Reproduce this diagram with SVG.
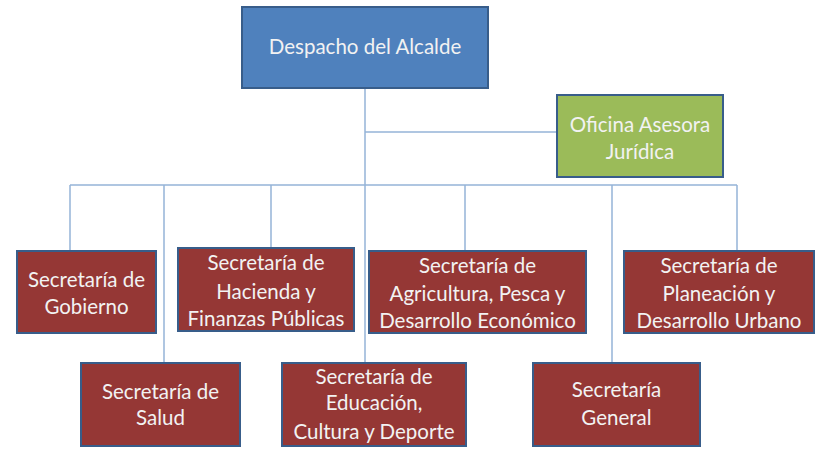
<svg xmlns="http://www.w3.org/2000/svg" width="826" height="463" viewBox="0 0 826 463">
<style>
.box{stroke:#385D8A;stroke-width:2}
.blue{fill:#4F81BD}
.green{fill:#9BBB59}
.red{fill:#953735}
.conn{fill:none;stroke:#95B3D7;stroke-width:1.5}
text{font-family:Lato,"Open Sans","Liberation Sans",sans-serif;font-size:20.5px;fill:#F2F2F2;text-anchor:middle}
</style>
<rect width="826" height="463" fill="#FFFFFF"/>
<g id="connectors">
<path class="conn" d="M365 88V363"/>
<path class="conn" d="M365 132H557"/>
<path class="conn" d="M70 185H737"/>
<path class="conn" d="M70 185V251"/>
<path class="conn" d="M164 185V363"/>
<path class="conn" d="M271 185V248"/>
<path class="conn" d="M465 185V251"/>
<path class="conn" d="M612 185V363"/>
<path class="conn" d="M737 185V251"/>
</g>
<g id="despacho">
<rect class="box blue" x="242" y="7" width="246" height="81"/>
<text x="365" y="54">Despacho del Alcalde</text>
</g>
<g id="oficina">
<rect class="box green" x="557" y="95" width="166" height="82"/>
<text x="640" y="132">Oficina Asesora</text>
<text x="640" y="159">Jurídica</text>
</g>
<g id="gobierno">
<rect class="box red" x="17" y="251" width="139" height="82"/>
<text x="86.5" y="287">Secretaría de</text>
<text x="86.5" y="314">Gobierno</text>
</g>
<g id="hacienda">
<rect class="box red" x="178" y="248" width="176" height="83"/>
<text x="266" y="270">Secretaría de</text>
<text x="266" y="299">Hacienda y</text>
<text x="266" y="326">Finanzas Públicas</text>
</g>
<g id="agricultura">
<rect class="box red" x="369" y="251" width="217" height="82"/>
<text x="477.5" y="273">Secretaría de</text>
<text x="477.5" y="301">Agricultura, Pesca y</text>
<text x="477.5" y="328">Desarrollo Económico</text>
</g>
<g id="planeacion">
<rect class="box red" x="624" y="251" width="190" height="82"/>
<text x="719" y="273">Secretaría de</text>
<text x="719" y="301">Planeación y</text>
<text x="719" y="328">Desarrollo Urbano</text>
</g>
<g id="salud">
<rect class="box red" x="81" y="363" width="159" height="83"/>
<text x="160.5" y="399">Secretaría de</text>
<text x="160.5" y="425">Salud</text>
</g>
<g id="educacion">
<rect class="box red" x="282" y="363" width="184" height="83"/>
<text x="374" y="384">Secretaría de</text>
<text x="374" y="410">Educación,</text>
<text x="374" y="439">Cultura y Deporte</text>
</g>
<g id="general">
<rect class="box red" x="533" y="363" width="167" height="83"/>
<text x="616.5" y="397">Secretaría</text>
<text x="616.5" y="425">General</text>
</g>
</svg>
